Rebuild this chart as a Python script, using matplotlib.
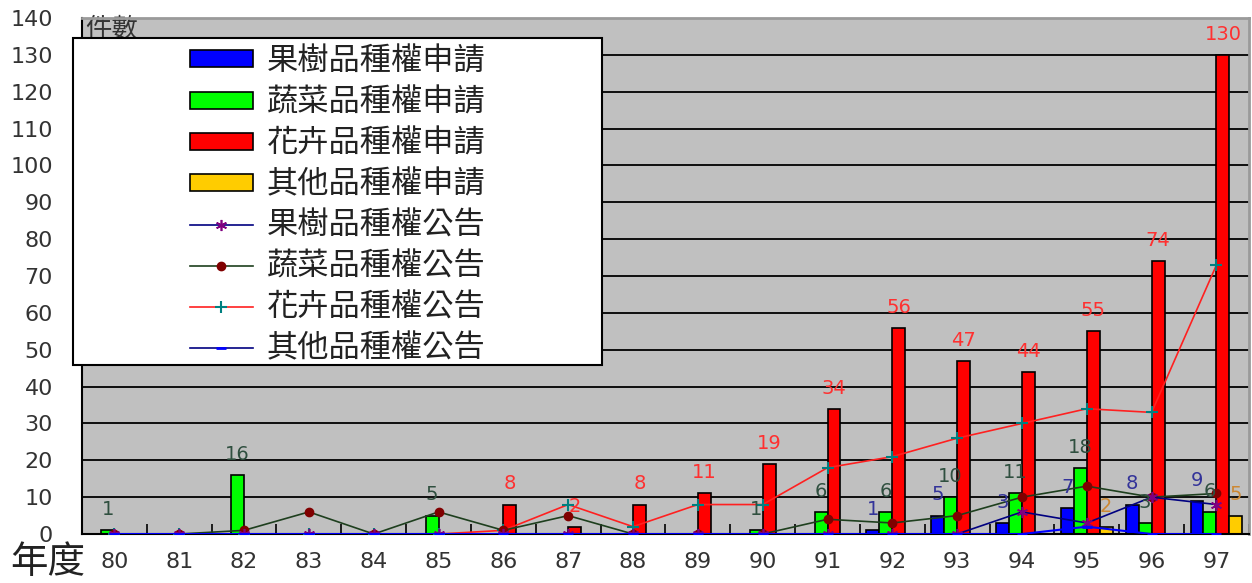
import numpy as np
import matplotlib
matplotlib.use("Agg")
import matplotlib.pyplot as plt
from matplotlib.patches import Patch, Rectangle
from matplotlib.lines import Line2D

plt.rcParams['font.family'] = ['DejaVu Sans', 'Noto Sans CJK TC']

years = ['80', '81', '82', '83', '84', '85', '86', '87', '88',
         '89', '90', '91', '92', '93', '94', '95', '96', '97']

# applications (bars)
fruit_app = [0, 0, 0, 0, 0, 0, 0, 0, 0, 0, 0, 0, 1, 5, 3, 7, 8, 9]
veg_app = [1, 0, 16, 0, 0, 5, 0, 0, 0, 0, 1, 6, 6, 10, 11, 18, 3, 6]
flower_app = [0, 0, 0, 0, 0, 0, 8, 2, 8, 11, 19, 34, 56, 47, 44, 55, 74, 130]
other_app = [0, 0, 0, 0, 0, 0, 0, 0, 0, 0, 0, 0, 0, 0, 0, 2, 0, 5]

# announcements (lines)
fruit_pub = [0, 0, 0, 0, 0, 0, 0, 0, 0, 0, 0, 0, 0, 0, 6, 3, 10, 8]
veg_pub = [0, 0, 1, 6, 0, 6, 1, 5, 0, 0, 0, 4, 3, 5, 10, 13, 10, 11]
flower_pub = [0, 0, 0, 0, 0, 0, 1, 8, 2, 8, 8, 18, 21, 26, 30, 34, 33, 73]
other_pub = [0, 0, 0, 0, 0, 0, 0, 0, 0, 0, 0, 0, 0, 0, 0, 2, 0, 0]

bar_names = ['果樹品種權申請', '蔬菜品種權申請', '花卉品種權申請', '其他品種權申請']
line_names = ['果樹品種權公告', '蔬菜品種權公告', '花卉品種權公告', '其他品種權公告']

fig = plt.figure(figsize=(12.52, 5.83), dpi=100)
ax = fig.add_axes([0.0655, 0.084, 0.932, 0.885])
ax.set_facecolor('#c0c0c0')

x = np.arange(len(years))
w = 0.2
bar_series = [fruit_app, veg_app, flower_app, other_app]
bar_colors = ['#0000ff', '#00ff00', '#ff0000', '#ffcc00']
label_colors = ['#333399', '#2f4f3f', '#ff3030', '#cc8833']
offsets = [-1.5, -0.5, 0.5, 1.5]

for vals, col, lc, off in zip(bar_series, bar_colors, label_colors, offsets):
    bars = ax.bar(x + off * w, vals, width=w, color=col, edgecolor='black',
                  linewidth=1.2, zorder=2)
    for b, v in zip(bars, vals):
        if v > 0:
            ax.annotate(str(v), (b.get_x() + b.get_width() / 2, v),
                        xytext=(0, 8), textcoords='offset points',
                        ha='center', va='bottom', fontsize=14, color=lc,
                        zorder=5)

# announcement lines drawn over the bars
ax.plot(x, flower_pub, color='#ff2020', lw=1.2, marker='+', ms=8,
        mec='#008080', mew=1.5, zorder=3)
ax.plot(x, veg_pub, color='#1e3f1e', lw=1.2, marker='o', ms=6,
        mfc='#800000', mec='#800000', zorder=3)
ax.plot(x, fruit_pub, color='#000080', lw=1.2, marker=(6, 2, 0), ms=8,
        mec='#800080', mew=1.2, zorder=3)
ax.plot(x, other_pub, color='#0000ff', lw=1.5, marker='_', ms=7,
        mec='#0000ff', mew=2, zorder=3)

ax.set_xlim(-0.5, len(years) - 0.5)
ax.set_ylim(0, 140)
ax.set_yticks(range(0, 141, 10))
ax.set_xticks(x)
ax.set_xticklabels(years)
ax.set_xticks(np.arange(-0.5, len(years), 1), minor=True)
ax.yaxis.grid(True, color='black', lw=1.3)
ax.set_axisbelow(True)

ax.tick_params(axis='y', length=0, pad=21, labelsize=16, labelcolor='#333333')
ax.tick_params(axis='x', which='major', length=0, pad=13, labelsize=16,
               labelcolor='#333333')
ax.tick_params(axis='x', which='minor', direction='in', length=7,
               width=1.2, color='black')

for s in ['top', 'right']:
    ax.spines[s].set_color('#9a9a9a')
    ax.spines[s].set_linewidth(2)
ax.spines['left'].set_color('black')
ax.spines['left'].set_linewidth(1.5)
ax.spines['bottom'].set_color('black')
ax.spines['bottom'].set_linewidth(1.5)

ax.text(0.003, 1.003, '件數', transform=ax.transAxes, ha='left', va='top',
        fontsize=19, color='#333333', zorder=1)
fig.text(0.008, 0.004, '年度', ha='left', va='bottom', fontsize=27,
         color='#222222')

# legend box with centred entries
ax.add_patch(Rectangle((-0.0077, 0.3275), 0.4537, 0.6335, transform=ax.transAxes,
                       facecolor='white', edgecolor='black', lw=1.5,
                       clip_on=False, zorder=6))
handles = [Patch(facecolor=c, edgecolor='black', lw=1.2) for c in bar_colors]
handles += [
    Line2D([], [], color='#000080', lw=1.2, marker=(6, 2, 0), ms=8,
           mec='#800080', mew=1.2),
    Line2D([], [], color='#1e3f1e', lw=1.2, marker='o', ms=6,
           mfc='#800000', mec='#800000'),
    Line2D([], [], color='#ff2020', lw=1.2, marker='+', ms=8,
           mec='#008080', mew=1.5),
    Line2D([], [], color='#000080', lw=1.2, marker='_', ms=7,
           mec='#0000ff', mew=2),
]
leg = ax.legend(handles, bar_names + line_names, loc='center',
                bbox_to_anchor=(0.2191, 0.637), frameon=False, fontsize=22.5,
                handlelength=2.0, handleheight=0.46, handletextpad=0.45,
                labelspacing=0.38, borderpad=0)
leg.set_zorder(7)
for t in leg.get_texts():
    t.set_color('#222222')

fig.savefig('out.png', dpi=100)
